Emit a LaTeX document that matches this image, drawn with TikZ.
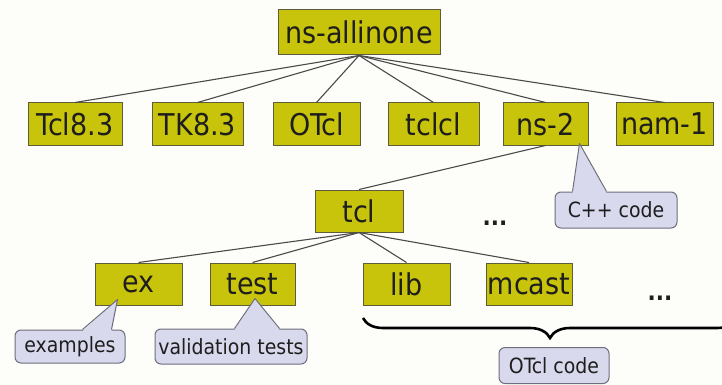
\documentclass[tikz,border=0pt]{standalone}
\usepackage{fontspec}
\setmainfont{DejaVu Sans Condensed}
\usetikzlibrary{decorations.pathreplacing,calc}

\definecolor{boxfill}{HTML}{C8C40C}
\definecolor{boxline}{HTML}{5E5C3A}
\definecolor{notefill}{HTML}{D9D9EE}
\definecolor{noteline}{HTML}{6E6E7E}
\definecolor{edgecol}{HTML}{4A4A4A}
\definecolor{txt}{HTML}{1E1E1E}
\definecolor{paper}{HTML}{FDFDF9}

\tikzset{
  dirbox/.style={draw=boxline, line width=1pt, fill=boxfill, inner sep=0pt,
    text=txt, font=\fontsize{30}{30}\selectfont, text depth=0pt},
  note/.style={draw=noteline, line width=1pt, fill=notefill, rounded corners=6pt,
    inner sep=0pt, text=txt, font=\fontsize{21}{21}\selectfont},
  edge/.style={draw=edgecol, line width=1.1pt},
  dots/.style={text=txt, font=\fontsize{24}{24}\bfseries\selectfont, inner sep=0pt},
}

\begin{document}
\begin{tikzpicture}[x=1pt, y=-1pt]
  \fill[paper] (0,0) rectangle (722,385);
  \useasboundingbox (0,0) rectangle (722,385);
  \clip (0,0) rectangle (722,385);

  % root
  \node[dirbox, minimum width=162pt, minimum height=45pt] (root) at (359,32.5) {ns-allinone};

  % second level
  \node[dirbox, minimum width=94pt, minimum height=42pt] (tcl83) at (75,124)    {Tcl8.3};
  \node[dirbox, minimum width=91pt, minimum height=42pt] (tk83)  at (197.5,124) {TK8.3};
  \node[dirbox, minimum width=87pt, minimum height=42pt] (otcl)  at (316.5,124) {OTcl};
  \node[dirbox, minimum width=91pt, minimum height=42pt] (tclcl) at (433.5,124) {tclcl};
  \node[dirbox, minimum width=85pt, minimum height=42pt] (ns2)   at (545.5,124) {ns-2};
  \node[dirbox, minimum width=97pt, minimum height=42pt] (nam)   at (664.5,124) {nam-1};

  % ns-2 subtree
  \node[dirbox, minimum width=88pt, minimum height=42pt] (tcl) at (359,211) {tcl};
  \node[dots] (dotsA) at (495,223) {...};

  \node[dirbox, minimum width=87pt, minimum height=42pt] (ex)    at (138.5,284) {ex};
  \node[dirbox, minimum width=85pt, minimum height=42pt] (test)  at (252.5,284) {test};
  \node[dirbox, minimum width=87pt, minimum height=42pt] (lib)   at (406.5,284) {lib};
  \node[dirbox, minimum width=86pt, minimum height=42pt] (mcast) at (529,284)   {mcast};
  \node[dots] (dotsB) at (660,298) {...};

  % tree edges
  \foreach \c in {tcl83,tk83,otcl,tclcl,ns2,nam}
    \draw[edge] (root.south) -- (\c.north);
  \draw[edge] (ns2.south) -- (tcl.north);
  \foreach \c in {ex,test,lib,mcast}
    \draw[edge] (tcl.south) -- (\c.north);

  % callouts: rounded box plus a pointer triangle
  \node[note, minimum width=122pt, minimum height=36pt] (cpp) at (616,210) {C++ code};
  \coordinate (cppTip) at ($(ns2.south east)+(-9,-2)$);
  \fill[notefill] ($(cpp.north west)+(18,1.5)$) -- (cppTip) -- ($(cpp.north west)+(52,1.5)$) -- cycle;
  \draw[noteline, line width=1pt, line join=round] ($(cpp.north west)+(18,0)$) -- (cppTip) -- ($(cpp.north west)+(52,0)$);

  \node[note, minimum width=110pt, minimum height=33pt] (exnote) at (70,346.5) {examples};
  \coordinate (exTip) at ($(ex.south west)+(23,-6)$);
  \fill[notefill] ($(exnote.north west)+(68,1.5)$) -- (exTip) -- ($(exnote.north west)+(97,1.5)$) -- cycle;
  \draw[noteline, line width=1pt, line join=round] ($(exnote.north west)+(68,0)$) -- (exTip) -- ($(exnote.north west)+(97,0)$);

  \node[note, minimum width=152pt, minimum height=35pt] (testnote) at (231,346.5) {validation tests};
  \coordinate (testTip) at ($(test.south)+(2.5,-7)$);
  \fill[notefill] ($(testnote.north west)+(80,1.5)$) -- (testTip) -- ($(testnote.north west)+(125,1.5)$) -- cycle;
  \draw[noteline, line width=1pt, line join=round] ($(testnote.north west)+(80,0)$) -- (testTip) -- ($(testnote.north west)+(125,0)$);

  % brace over the OTcl directories
  \coordinate (braceL) at (363,318);
  \coordinate (braceR) at (737,318);
  \draw[black, line width=2.6pt, decorate, decoration={brace, mirror, amplitude=20pt}]
    (braceL) -- (braceR);
  \node[note, minimum width=110pt, minimum height=36pt] (otclnote) at (554,365.5) {OTcl code};
\end{tikzpicture}
\end{document}
